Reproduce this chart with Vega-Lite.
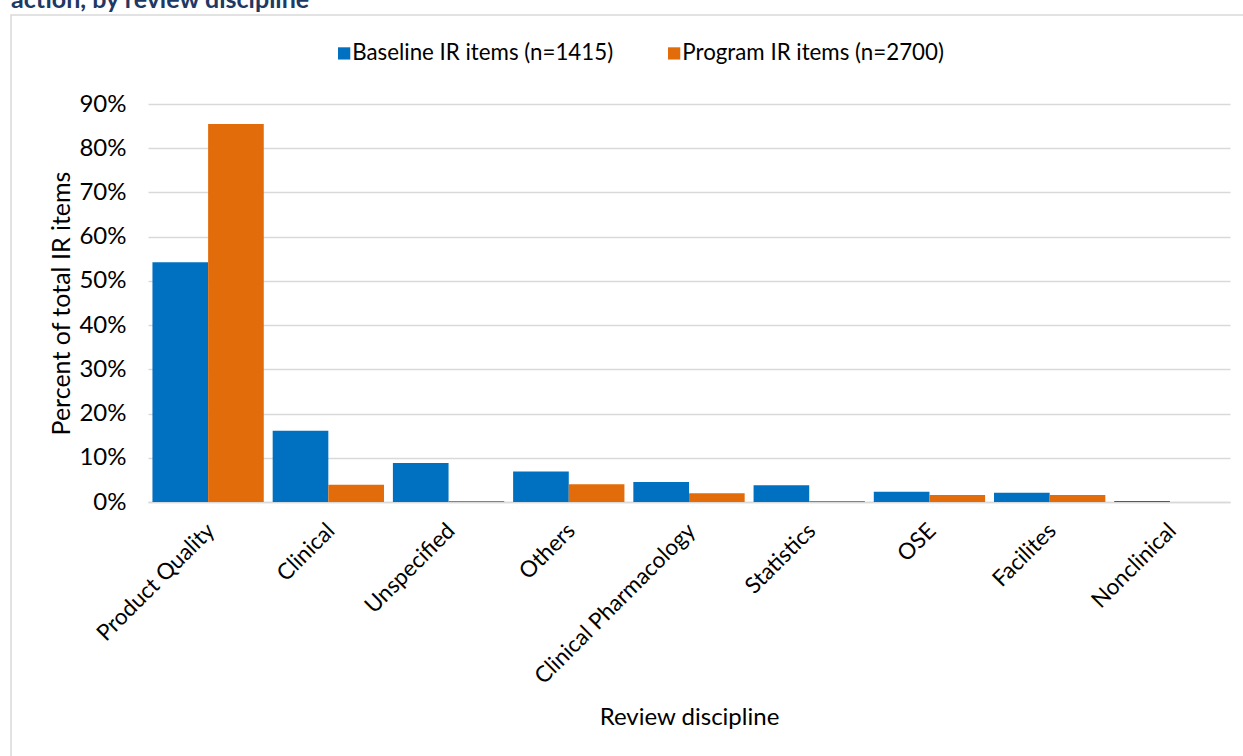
{
  "$schema": "https://vega.github.io/schema/vega-lite/v6.json",
  "autosize": "none",
  "width": 1242,
  "height": 751,
  "padding": {"left": 11, "top": 15, "right": -10, "bottom": -10},
  "background": "white",
  "title": {
    "text": "action, by review discipline",
    "anchor": "start",
    "frame": "group",
    "orient": "top",
    "font": "Lato",
    "fontSize": 25,
    "fontWeight": "bold",
    "color": "#203864",
    "offset": 0,
    "dx": 0,
    "dy": 18,
    "baseline": "alphabetic"
  },
  "config": {
    "font": "Lato",
    "view": {"stroke": "#d9d9d9", "strokeWidth": 1.5, "fill": "white"}
  },
  "data": {
    "values": [
      {"discipline": "Product Quality", "series": "Baseline IR items (n=1415)", "pct": 0.542},
      {"discipline": "Product Quality", "series": "Program IR items (n=2700)", "pct": 0.855},
      {"discipline": "Clinical", "series": "Baseline IR items (n=1415)", "pct": 0.161},
      {"discipline": "Clinical", "series": "Program IR items (n=2700)", "pct": 0.039},
      {"discipline": "Unspecified", "series": "Baseline IR items (n=1415)", "pct": 0.088},
      {"discipline": "Unspecified", "series": "Program IR items (n=2700)", "pct": 0.002},
      {"discipline": "Others", "series": "Baseline IR items (n=1415)", "pct": 0.069},
      {"discipline": "Others", "series": "Program IR items (n=2700)", "pct": 0.040},
      {"discipline": "Clinical Pharmacology", "series": "Baseline IR items (n=1415)", "pct": 0.045},
      {"discipline": "Clinical Pharmacology", "series": "Program IR items (n=2700)", "pct": 0.020},
      {"discipline": "Statistics", "series": "Baseline IR items (n=1415)", "pct": 0.038},
      {"discipline": "Statistics", "series": "Program IR items (n=2700)", "pct": 0.002},
      {"discipline": "OSE", "series": "Baseline IR items (n=1415)", "pct": 0.023},
      {"discipline": "OSE", "series": "Program IR items (n=2700)", "pct": 0.016},
      {"discipline": "Facilites", "series": "Baseline IR items (n=1415)", "pct": 0.021},
      {"discipline": "Facilites", "series": "Program IR items (n=2700)", "pct": 0.016},
      {"discipline": "Nonclinical", "series": "Baseline IR items (n=1415)", "pct": 0.002},
      {"discipline": "Nonclinical", "series": "Program IR items (n=2700)", "pct": 0.0}
    ]
  },
  "mark": {"type": "bar"},
  "encoding": {
    "x": {
      "field": "discipline",
      "type": "nominal",
      "sort": null,
      "scale": {"range": [137, 1219], "paddingInner": 0, "paddingOuter": 0},
      "axis": {
        "title": "Review discipline",
        "orient": "bottom",
        "offset": -264,
        "labelAngle": -45,
        "labelFontSize": 22.5,
        "labelColor": "#000000",
        "labelPadding": 17,
        "labelOffset": -5,
        "labelLimit": 0,
        "ticks": false,
        "domainColor": "#d9d9d9",
        "domainWidth": 1.5,
        "titleFontSize": 24,
        "titleFontWeight": "normal",
        "titleColor": "#000000",
        "titlePadding": 18
      }
    },
    "xOffset": {
      "field": "series",
      "type": "nominal",
      "sort": null,
      "scale": {"paddingInner": 0, "paddingOuter": 0.08}
    },
    "y": {
      "field": "pct",
      "type": "quantitative",
      "scale": {"domain": [0, 0.9], "range": [487, 89], "nice": false},
      "axis": {
        "title": "Percent of total IR items",
        "format": ".0%",
        "values": [0, 0.1, 0.2, 0.3, 0.4, 0.5, 0.6, 0.7, 0.8, 0.9],
        "offset": -137,
        "domain": false,
        "ticks": false,
        "tickSize": 0,
        "labelPadding": 22,
        "labelFontSize": 24,
        "labelColor": "#000000",
        "grid": true,
        "gridColor": "#d9d9d9",
        "gridWidth": 1.3,
        "titleFontSize": 25,
        "titleFontWeight": "normal",
        "titleColor": "#000000",
        "titlePadding": 4
      }
    },
    "color": {
      "field": "series",
      "type": "nominal",
      "sort": null,
      "scale": {
        "domain": ["Baseline IR items (n=1415)", "Program IR items (n=2700)"],
        "range": ["#0070C0", "#E36C0A"]
      },
      "legend": {
        "title": null,
        "orient": "none",
        "legendX": 322,
        "legendY": 27,
        "direction": "horizontal",
        "symbolType": "square",
        "symbolSize": 150,
        "symbolStrokeWidth": 0,
        "symbolOpacity": 1,
        "labelFontSize": 22.3,
        "labelColor": "#000000",
        "labelOffset": -3,
        "labelLimit": 0,
        "columnPadding": 49,
        "padding": 0
      }
    }
  }
}
